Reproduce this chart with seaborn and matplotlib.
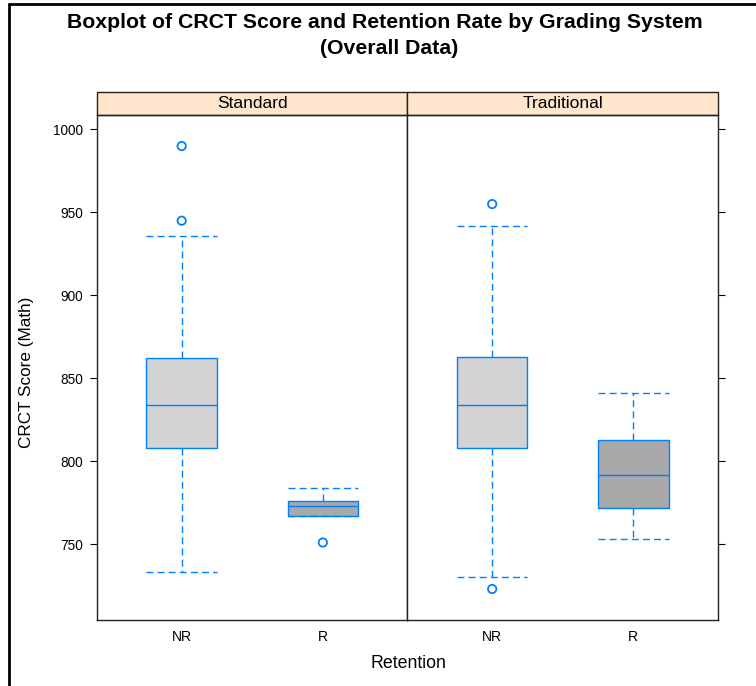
import pandas as pd
import matplotlib.pyplot as plt
from matplotlib.lines import Line2D
from matplotlib.patches import Rectangle
import seaborn as sns

# five-number summaries (whisker low, Q1, median, Q3, whisker high)
systems = ['Standard', 'Traditional']
retention = ['NR', 'R']
standard_nr = [733, 808, 834, 862, 936]
standard_r = [767, 767, 773, 776, 784]
traditional_nr = [730, 808, 834, 863, 942]
traditional_r = [753, 772, 792, 813, 841]

# points beyond the whiskers
standard_nr_out = [990, 945]
standard_r_out = [751]
traditional_nr_out = [955, 723]
traditional_r_out = []

yticks = [750, 800, 850, 900, 950, 1000]

BLUE = '#0080FF'
fills = {'NR': '#D3D3D3', 'R': '#A9A9A9'}


def long_table(nr, r):
    return pd.DataFrame({'Retention': ['NR'] * len(nr) + ['R'] * len(r),
                         'Score': list(nr) + list(r)})


box_data = {'Standard': long_table(standard_nr, standard_r),
            'Traditional': long_table(traditional_nr, traditional_r)}
out_data = {'Standard': long_table(standard_nr_out, standard_r_out),
            'Traditional': long_table(traditional_nr_out, traditional_r_out)}

sns.set_style('white')
plt.rcParams['font.family'] = ['Liberation Sans', 'DejaVu Sans']
plt.rcParams['text.color'] = 'black'
plt.rcParams['xtick.color'] = 'black'
plt.rcParams['ytick.color'] = 'black'

fig, axes = plt.subplots(1, 2, figsize=(7.56, 6.86), dpi=100, sharey=True)
fig.subplots_adjust(left=97 / 756, right=718 / 756, bottom=1 - 620 / 686,
                    top=1 - 115 / 686, wspace=0)

dash = (0, (5, 3))
for ax, system in zip(axes, systems):
    sns.boxplot(data=box_data[system], x='Retention', y='Score', hue='Retention',
                order=retention, hue_order=retention, palette=fills, legend=False,
                saturation=1, width=0.5, whis=(0, 100), showfliers=False,
                linecolor=BLUE, linewidth=1.0, capwidths=0.5,
                whiskerprops=dict(linestyle=dash, color=BLUE),
                capprops=dict(linestyle=dash, color=BLUE),
                medianprops=dict(color=BLUE), ax=ax)
    if len(out_data[system]):
        sns.stripplot(data=out_data[system], x='Retention', y='Score',
                      order=retention, jitter=False, marker='o', s=6,
                      facecolor='none', edgecolor=BLUE, linewidth=1.3, ax=ax)

    ax.set_xlim(-0.6, 1.6)
    ax.set_ylim(704.3, 1008.7)
    ax.set_xlabel('')
    ax.set_ylabel('')
    for sp in ax.spines.values():
        sp.set_visible(True)
        sp.set_color('#222222')
        sp.set_linewidth(1.0)
    ax.tick_params(axis='x', length=0, pad=7, labelsize=10)

    # strip above each panel
    ax.add_patch(Rectangle((0, 1), 1, 23 / 505, transform=ax.transAxes,
                           facecolor='#FFE5CC', edgecolor='#222222', lw=1.0,
                           clip_on=False))
    ax.text(0.5, 1 + 11 / 505, system, transform=ax.transAxes,
            ha='center', va='center', fontsize=12.5)

axes[0].set_yticks(yticks)
axes[0].tick_params(axis='y', left=True, length=5, width=0.8, pad=5,
                    labelsize=9.8, direction='out')
axes[1].tick_params(axis='y', left=False, right=True, labelright=False,
                    labelleft=False, length=5, width=0.8, direction='out')

fig.text(385 / 756, 1 - 22 / 686, 'Boxplot of CRCT Score and Retention Rate by Grading System',
         ha='center', va='center', fontsize=15.3, fontweight='bold')
fig.text(389 / 756, 1 - 49 / 686, '(Overall Data)',
         ha='center', va='center', fontsize=15.3, fontweight='bold')
fig.text(27 / 756, 1 - 372 / 686, 'CRCT Score (Math)', rotation=90,
         ha='center', va='center', fontsize=12.3)
fig.text(408 / 756, 1 - 664 / 686, 'Retention', ha='center', va='center', fontsize=12.8)

# frame of the original screenshot (top and left edges)
fig.add_artist(Line2D([8.5 / 756, 1], [1 - 4 / 686, 1 - 4 / 686],
                      transform=fig.transFigure, color='black', lw=2))
fig.add_artist(Line2D([8.5 / 756, 8.5 / 756], [0, 1 - 4 / 686],
                      transform=fig.transFigure, color='black', lw=2))

plt.savefig('out.png', dpi=100)
